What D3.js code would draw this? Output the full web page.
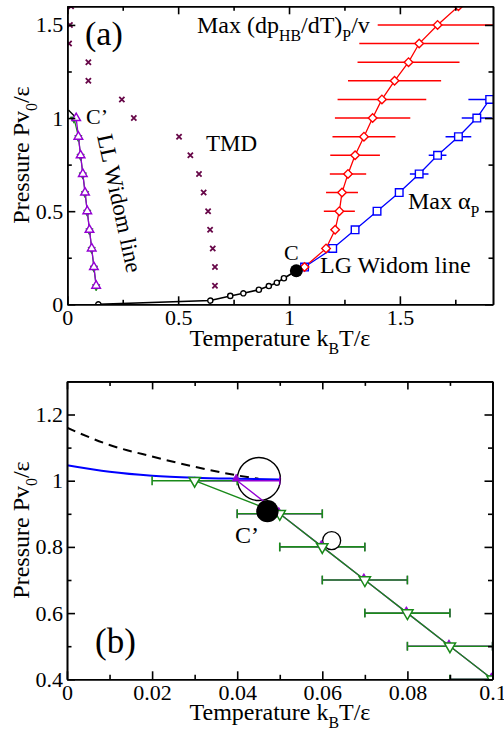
<!DOCTYPE html>
<html><head><meta charset="utf-8">
<script src="https://cdn.jsdelivr.net/npm/d3@7"></script>
<style>
body{margin:0;background:#fff}
svg{display:block}
text{font-family:"Liberation Serif","Times New Roman",serif;fill:#000}
</style>
</head><body>
<svg id="c" width="504" height="735"></svg>
<script>
// ================= DATA =================
// Panel (a): TMD (x markers)
const tmdT = [0.017,0.012,0.008,0.095,0.095,0.246,0.300,0.504,0.555,0.594,0.615,0.635,0.644,0.656,0.666,0.666];
const tmdP = [1.6,1.5,1.4,1.3,1.2,1.1,1.0,0.9,0.8,0.7,0.6,0.5,0.4,0.3,0.2,0.1];
// Panel (a): liquid-gas coexistence (black open circles), ends at C
const lgT = [0.14,0.645,0.735,0.794,0.864,0.909,0.945,0.977,1.033];
const lgP = [0.0,0.02,0.045,0.059,0.078,0.098,0.116,0.14,0.18];
const critCT = [1.033], critCP = [0.18];
// Panel (a): Max (dp_HB/dT)_P/v (red diamonds) with horizontal errors
const hbT = [1.07,1.167,1.208,1.227,1.239,1.266,1.298,1.338,1.377,1.419,1.476,1.539,1.587,1.67,1.764];
const hbP = [0.2,0.3,0.4,0.5,0.6,0.7,0.8,0.9,1.0,1.1,1.2,1.3,1.4,1.5,1.6];
const hbErr = [0,0,0,0.07,0.072,0.082,0.112,0.142,0.17,0.2,0.21,0.23,0.27,0.27,0.3];
// Panel (a): Max alpha_P (blue squares)
const alphaT = [1.07,1.197,1.298,1.397,1.497,1.587,1.67,1.764,1.847,1.905];
const alphaP = [0.2,0.3,0.4,0.5,0.6,0.7,0.8,0.9,1.0,1.1];
const alphaErr = [0,0,0,0,0,0.042,0.04,0.058,0.068,0.096];
// LL Widom line, purple up-triangles (both panels)
const llT = [0.13,0.12,0.11,0.10,0.09,0.08,0.07,0.06,0.05,0.04];
const llP = [0.1,0.2,0.3,0.4,0.5,0.6,0.7,0.8,0.9,1.0];
const llErr = [0.01,0.01,0.01,0.01,0.01,0.01,0.01,0.01,0.01,0.01];
// LL Widom line, green down-triangles (both panels)
const grT = [0.13,0.12,0.11,0.10,0.09,0.08,0.07,0.06,0.05,0.03];
const grP = [0.1,0.2,0.3,0.4,0.5,0.6,0.7,0.8,0.9,1.0];
const grErr = [0.01,0.01,0.01,0.01,0.01,0.01,0.01,0.01,0.01,0.01];
// Panel (a): short black segment near C'
const segAT = [0.005,0.035];
const segAP = [1.043,1.007];
// Panel (b): blue solid curve and black dashed curve
const blueT = [0,0.01,0.02,0.03,0.04,0.05];
const blueP = [1.047,1.027,1.015,1.009,1.006,1.004];
const dashT = [0,0.01,0.02,0.03,0.04,0.045];
const dashP = [1.16,1.108,1.073,1.042,1.016,1.006];
// Panel (b): circles
const bigOpenT = [0.0451], bigOpenP = [1.005];
const cPrimeT = [0.0471], cPrimeP = [0.908];
const smallOpenT = [0.0622], smallOpenP = [0.819];
// Ticks
const xTicksA = [0,0.5,1,1.5], xTickLabelsA = ["0","0.5","1","1.5"], xMinorA = [0.25,0.75,1.25,1.75];
const yTicksA = [0,0.5,1,1.5], yTickLabelsA = ["0","0.5","1","1.5"], yMinorA = [0.25,0.75,1.25];
const xTicksB = [0,0.02,0.04,0.06,0.08,0.1], xTickLabelsB = ["0","0.02","0.04","0.06","0.08","0.1"], xMinorB = [0.01,0.03,0.05,0.07,0.09];
const yTicksB = [0.4,0.6,0.8,1.0,1.2], yTickLabelsB = ["0.4","0.6","0.8","1","1.2"], yMinorB = [0.5,0.7,0.9,1.1];

// ================= STYLE =================
const RED="#ff0000", BLUE="#0000ff", PURPLE="#9400d3", GREEN="#1a8a1a", MAROON="#670748";
const svg = d3.select("#c");
const zip = (a,b) => a.map((v,i)=>[v,b[i]]);

const xA = d3.scaleLinear().domain([0,1.92]).range([67.3,493]);
const yA = d3.scaleLinear().domain([0,1.6]).range([304.3,6.3]);
const xB = d3.scaleLinear().domain([0,0.1]).range([67,492.5]);
const yB = d3.scaleLinear().domain([0.4,1.3]).range([679.3,381.4]);

const defs = svg.append("defs");
function clip(id,x,y){
  defs.append("clipPath").attr("id",id).append("rect")
    .attr("x",x.range()[0]).attr("y",y.range()[1])
    .attr("width",x.range()[1]-x.range()[0]).attr("height",y.range()[0]-y.range()[1]);
}
clip("ca",xA,yA); clip("cb",xB,yB);

function tri(cx,cy,r,up){const k=up?1:-1;return `M${cx},${cy-k*r}L${cx+r*0.866},${cy+k*r*0.5}L${cx-r*0.866},${cy+k*r*0.5}Z`;}
function diamond(cx,cy,r){return `M${cx},${cy-r}L${cx+r},${cy}L${cx},${cy+r}L${cx-r},${cy}Z`;}
function square(cx,cy,r){return `M${cx-r},${cy-r}h${2*r}v${2*r}h${-2*r}Z`;}
function cross(cx,cy,r){return `M${cx-r},${cy-r}L${cx+r},${cy+r}M${cx-r},${cy+r}L${cx+r},${cy-r}`;}

function line(g,x,y,T,P,color,w,curve,dash){
  g.append("path").datum(zip(T,P))
    .attr("d",d3.line().x(d=>x(d[0])).y(d=>y(d[1])).curve(curve||d3.curveLinear))
    .attr("fill","none").attr("stroke",color).attr("stroke-width",w)
    .attr("stroke-dasharray",dash||null);
}
function marks(g,x,y,T,P,fn,stroke,fill,w){
  g.selectAll(null).data(zip(T,P)).enter().append("path")
    .attr("d",d=>fn(x(d[0]),y(d[1])))
    .attr("fill",fill).attr("stroke",stroke).attr("stroke-width",w);
}
function errs(g,x,y,T,P,E,color,w,cap){
  const d=zip(T,P).map((p,i)=>[p[0],p[1],E[i]]).filter(p=>p[2]>0);
  g.selectAll(null).data(d).enter().append("line")
    .attr("x1",p=>x(p[0]-p[2])).attr("x2",p=>x(p[0]+p[2]))
    .attr("y1",p=>y(p[1])).attr("y2",p=>y(p[1]))
    .attr("stroke",color).attr("stroke-width",w);
  if(cap){
    d.forEach(p=>{[p[0]-p[2],p[0]+p[2]].forEach(t=>{
      g.append("line").attr("x1",x(t)).attr("x2",x(t))
        .attr("y1",y(p[1])-cap).attr("y2",y(p[1])+cap)
        .attr("stroke",color).attr("stroke-width",w);
    });});
  }
}

function rich(g,x,y,parts,size,anchor){
  const t=g.append("text").attr("x",x).attr("y",y).attr("font-size",size).attr("text-anchor",anchor||"start");
  let shifted=false;
  parts.forEach(([s,sub])=>{
    const ts=t.append("tspan").text(s);
    if(sub){ts.attr("font-size",size*0.66); if(!shifted){ts.attr("dy",size*0.32);shifted=true;}}
    else if(shifted){ts.attr("dy",-size*0.32);shifted=false;}
  });
  return t;
}

function axes(x,y,xt,xl,xm,yt,yl,ym){
  const g=svg.append("g");
  const y0=y.range()[0], y1=y.range()[1], x0=x.range()[0], x1=x.range()[1];
  const style=s=>{s.attr("font-size",22).attr("font-family","Liberation Serif, serif");
    s.selectAll("line,path").attr("stroke-width",1.6);};
  g.append("g").attr("transform",`translate(0,${y0})`).call(d3.axisBottom(x).tickValues(xt).tickFormat((d,i)=>xl[i]).tickSize(-8).tickSizeOuter(0).tickPadding(5.5)).call(style);
  g.append("g").attr("transform",`translate(0,${y0})`).call(d3.axisBottom(x).tickValues(xm).tickFormat("").tickSize(-4.5).tickSizeOuter(0)).call(style);
  g.append("g").attr("transform",`translate(0,${y1})`).call(d3.axisTop(x).tickValues(xt).tickFormat("").tickSize(-8).tickSizeOuter(0)).call(style);
  g.append("g").attr("transform",`translate(0,${y1})`).call(d3.axisTop(x).tickValues(xm).tickFormat("").tickSize(-4.5).tickSizeOuter(0)).call(style);
  g.append("g").attr("transform",`translate(${x0},0)`).call(d3.axisLeft(y).tickValues(yt).tickFormat((d,i)=>yl[i]).tickSize(-8).tickSizeOuter(0).tickPadding(4)).call(style);
  g.append("g").attr("transform",`translate(${x0},0)`).call(d3.axisLeft(y).tickValues(ym).tickFormat("").tickSize(-4.5).tickSizeOuter(0)).call(style);
  g.append("g").attr("transform",`translate(${x1},0)`).call(d3.axisRight(y).tickValues(yt).tickFormat("").tickSize(-8).tickSizeOuter(0)).call(style);
  g.append("g").attr("transform",`translate(${x1},0)`).call(d3.axisRight(y).tickValues(ym).tickFormat("").tickSize(-4.5).tickSizeOuter(0)).call(style);
  g.selectAll("text").attr("fill","#000");
  return g;
}

// ================= PANEL (a) =================
const ga = svg.append("g").attr("clip-path","url(#ca)");
// red error bars and line
errs(ga,xA,yA,hbT,hbP,hbErr,RED,1.4,0);
errs(ga,xA,yA,alphaT,alphaP,alphaErr,BLUE,1.4,0);
line(ga,xA,yA,alphaT,alphaP,BLUE,1.3);
line(ga,xA,yA,hbT,hbP,RED,1.3);
marks(ga,xA,yA,alphaT,alphaP,(cx,cy)=>square(cx,cy,3.8),BLUE,"#fff",1.4);
marks(ga,xA,yA,hbT,hbP,(cx,cy)=>diamond(cx,cy,4.3),RED,"#fff",1.4);
// LG coexistence
line(ga,xA,yA,lgT,lgP,"#000",1.6);
marks(ga,xA,yA,lgT.slice(0,-1),lgP.slice(0,-1),(cx,cy)=>`M${cx-2.6},${cy}a2.6,2.6 0 1,0 5.2,0a2.6,2.6 0 1,0 -5.2,0`,"#000","#fff",1.4);
ga.selectAll(null).data(zip(critCT,critCP)).enter().append("circle")
  .attr("cx",d=>xA(d[0])).attr("cy",d=>yA(d[1])).attr("r",6.5).attr("fill","#000");
// TMD
marks(ga,xA,yA,tmdT,tmdP,(cx,cy)=>cross(cx,cy,2.6),MAROON,"none",1.8);
// LL Widom line
line(ga,xA,yA,segAT,segAP,"#000",1.3);
line(ga,xA,yA,grT,grP,GREEN,1.2);
marks(ga,xA,yA,grT,grP,(cx,cy)=>tri(cx,cy+1,4.2,false),GREEN,GREEN,0.8);
line(ga,xA,yA,llT,llP,PURPLE,1.3);
marks(ga,xA,yA,llT,llP,(cx,cy)=>tri(cx,cy,5,true),PURPLE,"#fff",1.4);

axes(xA,yA,xTicksA,xTickLabelsA,xMinorA,yTicksA,yTickLabelsA,yMinorA);

// labels (a)
svg.append("text").attr("x",85).attr("y",45).attr("font-size",34).text("(a)");
svg.append("text").attr("x",86).attr("y",124).attr("font-size",22).text("C’");
svg.append("text").attr("transform","translate(97,136) rotate(77.7)").attr("font-size",23).text("LL Widom line");
svg.append("text").attr("x",206).attr("y",151).attr("font-size",23).text("TMD");
rich(svg,197,33,[["Max (dp",0],["HB",1],["/dT)",0],["P",1],["/v",0]],24);
rich(svg,408,209,[["Max α",0],["P",1]],24);
svg.append("text").attr("x",284).attr("y",260).attr("font-size",22).text("C");
svg.append("text").attr("x",320).attr("y",273).attr("font-size",24).text("LG Widom line");
rich(svg,280,346,[["Temperature k",0],["B",1],["T/ε",0]],24,"middle");
rich(svg.append("g").attr("transform","translate(29,155) rotate(-90)"),0,0,[["Pressure Pv",0],["0",1],["/ε",0]],24,"middle");

// ================= PANEL (b) =================
const gb = svg.append("g").attr("clip-path","url(#cb)");
line(gb,xB,yB,dashT,dashP,"#000",2,d3.curveMonotoneX,"9,6");
line(gb,xB,yB,blueT,blueP,BLUE,2,d3.curveMonotoneX);
gb.selectAll(null).data(zip(bigOpenT,bigOpenP)).enter().append("circle")
  .attr("cx",d=>xB(d[0])).attr("cy",d=>yB(d[1])).attr("r",21.5)
  .attr("fill","none").attr("stroke","#000").attr("stroke-width",1.4);
errs(gb,xB,yB,llT,llP,llErr,PURPLE,1.4,4);
line(gb,xB,yB,llT,llP,PURPLE,1.4);
errs(gb,xB,yB,grT,grP,grErr,GREEN,1.6,4.5);
gb.selectAll(null).data(zip(smallOpenT,smallOpenP)).enter().append("circle")
  .attr("cx",d=>xB(d[0])).attr("cy",d=>yB(d[1])).attr("r",9)
  .attr("fill","#fff").attr("stroke","#000").attr("stroke-width",1.3);
line(gb,xB,yB,grT,grP,GREEN,1.4);
marks(gb,xB,yB,llT,llP,(cx,cy)=>tri(cx-1,cy-2,4.5,true),PURPLE,PURPLE,0.8);
marks(gb,xB,yB,grT,grP,(cx,cy)=>tri(cx,cy,6.5,false),GREEN,"#fff",1.5);
gb.selectAll(null).data(zip(cPrimeT,cPrimeP)).enter().append("circle")
  .attr("cx",d=>xB(d[0])).attr("cy",d=>yB(d[1])).attr("r",11.2).attr("fill","#000");

axes(xB,yB,xTicksB,xTickLabelsB,xMinorB,yTicksB,yTickLabelsB,yMinorB);

svg.append("text").attr("x",95).attr("y",653).attr("font-size",35).text("(b)");
svg.append("text").attr("x",235).attr("y",543).attr("font-size",24).text("C’");
rich(svg,280,720,[["Temperature k",0],["B",1],["T/ε",0]],24,"middle");
rich(svg.append("g").attr("transform","translate(29,530) rotate(-90)"),0,0,[["Pressure Pv",0],["0",1],["/ε",0]],24,"middle");
</script>
</body></html>
